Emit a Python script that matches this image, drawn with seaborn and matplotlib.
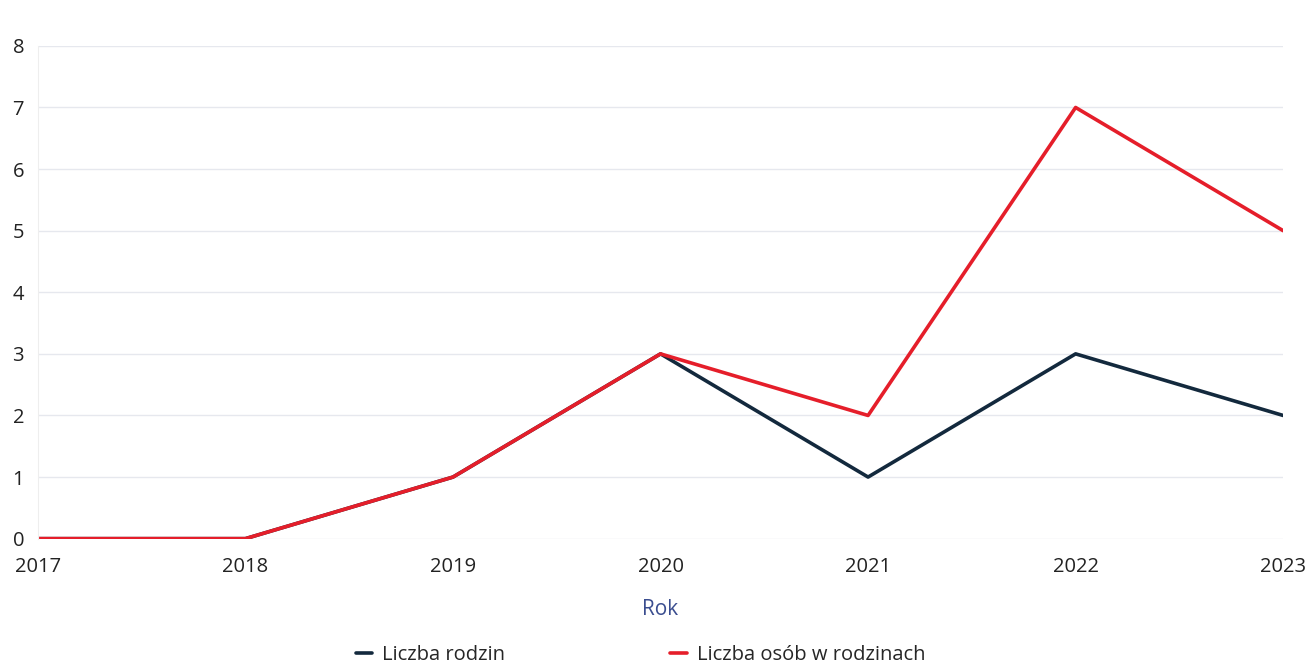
import pandas as pd
import seaborn as sns
import matplotlib.pyplot as plt

# Data
years = [2017, 2018, 2019, 2020, 2021, 2022, 2023]
rodziny = [0, 0, 1, 3, 1, 3, 2]
osoby = [0, 0, 1, 3, 2, 7, 5]
series_names = ["Liczba rodzin", "Liczba osób w rodzinach"]
colors = ["#13293d", "#e51e2a"]

df = pd.DataFrame({
    "Rok": years * 2,
    "value": rodziny + osoby,
    "series": [series_names[0]] * len(years) + [series_names[1]] * len(years),
})

sns.set_style("white")
plt.rcParams["font.family"] = ["Open Sans", "DejaVu Sans"]

fig = plt.figure(figsize=(13.08, 6.65), dpi=100)
ax = fig.add_axes([0.029, 0.19, 0.952, 0.741])

sns.lineplot(data=df, x="Rok", y="value", hue="series", palette=colors,
             linewidth=2.6, ax=ax, legend=True)

ax.set_xlim(2017, 2023)
ax.set_ylim(0, 8)
ax.set_xticks(years)
ax.set_yticks(range(0, 9))
ax.tick_params(axis="both", labelsize=14.5, colors="#222222", length=0)
ax.tick_params(axis="x", pad=13)
ax.tick_params(axis="y", pad=10)
ax.grid(axis="y", color="#e6e8ee", linewidth=1)
for s in ["top", "right", "bottom"]:
    ax.spines[s].set_visible(False)
ax.spines["left"].set_color("#eeeeee")

ax.set_xlabel("Rok", fontsize=15, color="#3a4d8f", labelpad=16)
ax.set_ylabel("")

handles, labels = ax.get_legend_handles_labels()
ax.legend(handles, labels, loc="upper center", bbox_to_anchor=(0.484, -0.18),
          ncol=2, frameon=False, fontsize=14.5, handlelength=0.8,
          columnspacing=8.2, handletextpad=0.5)

fig.savefig("out.png", dpi=100)
